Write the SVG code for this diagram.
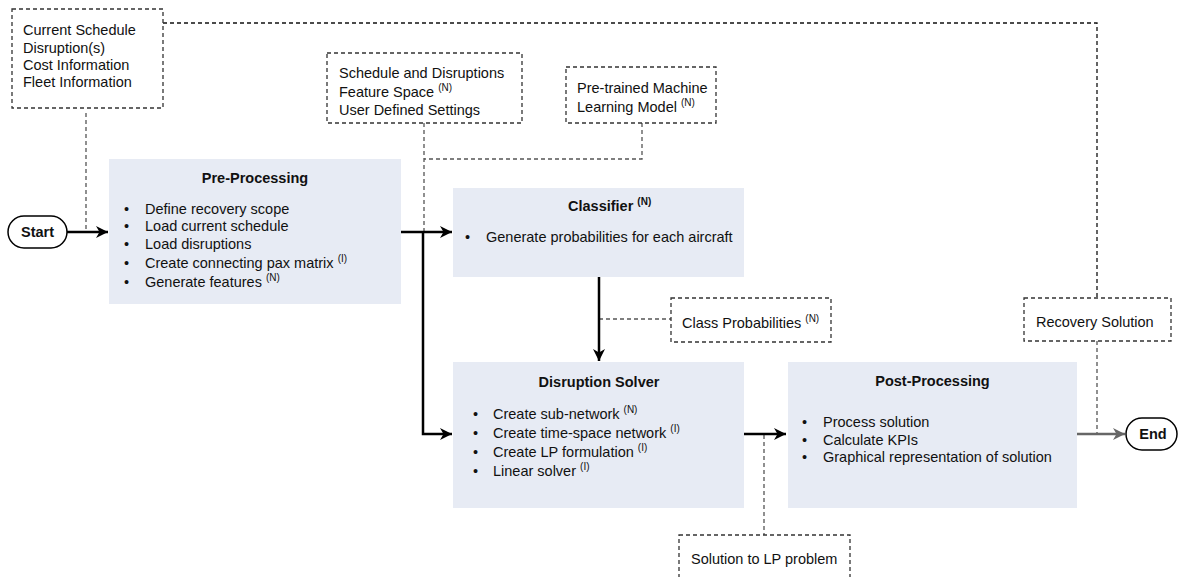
<svg xmlns="http://www.w3.org/2000/svg" width="1179" height="577" viewBox="0 0 1179 577">
<style>
text{font-family:"Liberation Sans",Arial,sans-serif;font-size:14.5px;fill:#111}
.b{font-weight:bold}
.t{text-anchor:middle;font-weight:bold}
.sup{font-size:10px}
.box{fill:#e7ebf4;stroke:none}
.dbox{fill:#fff;stroke:#333;stroke-width:1.3;stroke-dasharray:4 3}
.dl{fill:none;stroke:#111;stroke-width:1.3;stroke-dasharray:4 3}
.dg{fill:none;stroke:#555;stroke-width:1.3;stroke-dasharray:4 3}
.arr{fill:none;stroke:#000;stroke-width:2.5}
.arrg{fill:none;stroke:#666;stroke-width:2.5}
.term{fill:#fff;stroke:#000;stroke-width:1.5}
</style>
<defs>
<marker id="ah" markerUnits="userSpaceOnUse" markerWidth="14" markerHeight="14" refX="12" refY="6" orient="auto">
<path d="M0,0 L12,6 L0,12 L3.5,6 z" fill="#000"/>
</marker>
<marker id="ahg" markerUnits="userSpaceOnUse" markerWidth="14" markerHeight="14" refX="12" refY="6" orient="auto">
<path d="M0,0 L12,6 L0,12 L3.5,6 z" fill="#666"/>
</marker>
</defs>

<g id="connectors">
<path class="dg" d="M86,113 V230"/>
<path class="dl" d="M163,23 H1097 V298"/>
<path class="dg" d="M1097,341 V433"/>
<path class="dg" d="M424,123 V231"/>
<path class="dg" d="M642,123 V159 H424"/>
<path class="dg" d="M599,319 H671"/>
<path class="dg" d="M764,435 V535"/>
<path class="arr" d="M67,232 H108" marker-end="url(#ah)"/>
<path class="arr" d="M401,232 H452" marker-end="url(#ah)"/>
<path class="arr" d="M423,232 V434 H452" marker-end="url(#ah)"/>
<path class="arr" d="M599,277 V361" marker-end="url(#ah)"/>
<path class="arr" d="M744,434 H786" marker-end="url(#ah)"/>
<path class="arrg" d="M1077,434 H1125" marker-end="url(#ahg)"/>
</g>

<g id="inputs">
<rect class="dbox" x="12" y="9" width="151" height="99"/>
<text x="23" y="35">Current Schedule</text>
<text x="23" y="52.5">Disruption(s)</text>
<text x="23" y="70">Cost Information</text>
<text x="23" y="87">Fleet Information</text>
</g>

<g id="schedule-features">
<rect class="dbox" x="327" y="53" width="195" height="70"/>
<text x="339" y="78">Schedule and Disruptions</text>
<text x="339" y="96.5">Feature Space <tspan class="sup" dy="-6">(N)</tspan></text>
<text x="339" y="115">User Defined Settings</text>
</g>

<g id="ml-model">
<rect class="dbox" x="566" y="67" width="150" height="56"/>
<text x="577" y="93">Pre-trained Machine</text>
<text x="577" y="112">Learning Model <tspan class="sup" dy="-6">(N)</tspan></text>
</g>

<g id="start">
<rect class="term" x="8" y="216" width="59" height="32" rx="16" ry="16"/>
<text class="t" x="37.5" y="237">Start</text>
</g>

<g id="pre-processing">
<rect class="box" x="109" y="159" width="292" height="145"/>
<text class="t" x="255" y="183">Pre-Processing</text>
<text x="124" y="214">•</text><text x="145" y="214">Define recovery scope</text>
<text x="124" y="231">•</text><text x="145" y="231">Load current schedule</text>
<text x="124" y="249">•</text><text x="145" y="249">Load disruptions</text>
<text x="124" y="268">•</text><text x="145" y="268">Create connecting pax matrix <tspan class="sup" dy="-6">(I)</tspan></text>
<text x="124" y="287">•</text><text x="145" y="287">Generate features <tspan class="sup" dy="-6">(N)</tspan></text>
</g>

<g id="classifier">
<rect class="box" x="453" y="188" width="291" height="89"/>
<text class="b" x="568" y="211">Classifier <tspan class="sup" dy="-6">(N)</tspan></text>
<text x="465" y="242">•</text><text x="486" y="242">Generate probabilities for each aircraft</text>
</g>

<g id="class-probabilities">
<rect class="dbox" x="671" y="298" width="160" height="44"/>
<text x="682" y="328">Class Probabilities <tspan class="sup" dy="-6">(N)</tspan></text>
</g>

<g id="disruption-solver">
<rect class="box" x="453" y="362" width="291" height="146"/>
<text class="t" x="599" y="387">Disruption Solver</text>
<text x="473" y="419">•</text><text x="493" y="419">Create sub-network <tspan class="sup" dy="-6">(N)</tspan></text>
<text x="473" y="438">•</text><text x="493" y="438">Create time-space network <tspan class="sup" dy="-6">(I)</tspan></text>
<text x="473" y="457">•</text><text x="493" y="457">Create LP formulation <tspan class="sup" dy="-6">(I)</tspan></text>
<text x="473" y="476">•</text><text x="493" y="476">Linear solver <tspan class="sup" dy="-6">(I)</tspan></text>
</g>

<g id="post-processing">
<rect class="box" x="788" y="362" width="289" height="146"/>
<text class="t" x="932.5" y="386">Post-Processing</text>
<text x="802" y="427">•</text><text x="823" y="427">Process solution</text>
<text x="802" y="444.5">•</text><text x="823" y="444.5">Calculate KPIs</text>
<text x="802" y="462">•</text><text x="823" y="462">Graphical representation of solution</text>
</g>

<g id="recovery-solution">
<rect class="dbox" x="1024" y="298" width="147" height="43"/>
<text x="1036" y="327">Recovery Solution</text>
</g>

<g id="lp-solution">
<rect class="dbox" x="679" y="535" width="171" height="50"/>
<text x="691" y="564">Solution to LP problem</text>
</g>

<g id="end">
<rect class="term" x="1126" y="418" width="51" height="32" rx="16" ry="16"/>
<text class="t" x="1153" y="439">End</text>
</g>
</svg>
